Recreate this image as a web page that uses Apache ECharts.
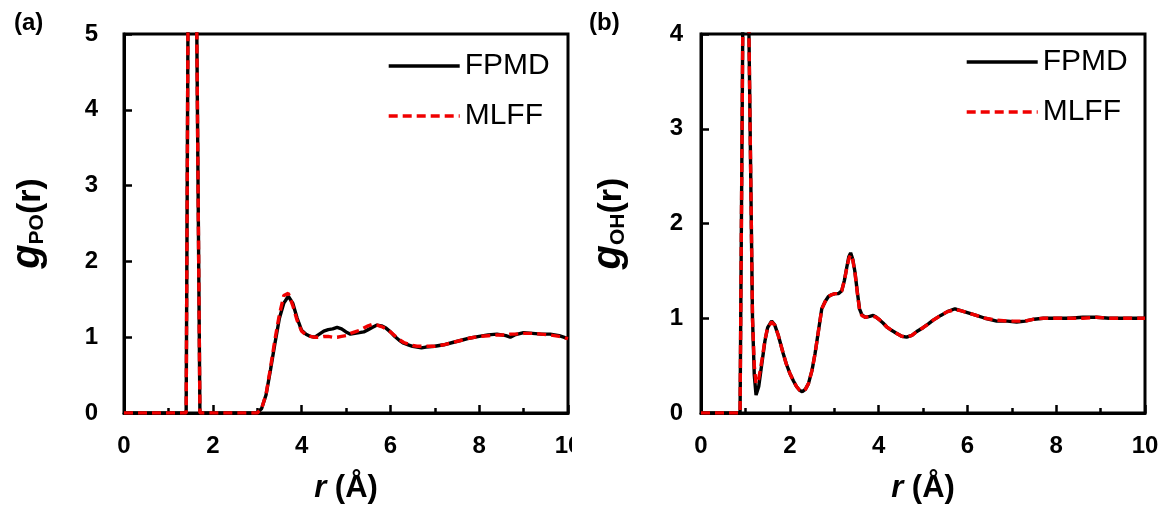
<!DOCTYPE html>
<html>
<head>
<meta charset="utf-8">
<script src="https://cdn.jsdelivr.net/npm/echarts@6/dist/echarts.min.js"></script>
<style>
  html, body { margin: 0; padding: 0; background: #fff; }
  #wrap { position: relative; width: 1163px; height: 506px; overflow: hidden; }
  #pa { position: absolute; left: 0; top: 0; width: 572px; height: 506px; }
  #pb { position: absolute; left: 572px; top: 0; width: 591px; height: 506px; }
</style>
</head>
<body>
<div id="wrap"><div id="pa"></div><div id="pb"></div></div>
<script>
// Panel (a): P–O radial distribution function
const rA = [0, 1.40, 1.44, 1.50, 1.56, 1.64, 1.71, 3.00, 3.10, 3.20, 3.30, 3.40, 3.50, 3.60, 3.70, 3.80, 3.90,
  4.00, 4.10, 4.20, 4.30, 4.40, 4.50, 4.60, 4.70, 4.80, 4.90, 5.00, 5.10, 5.20, 5.30, 5.40, 5.50, 5.60, 5.70,
  5.80, 5.90, 6.00, 6.10, 6.20, 6.30, 6.40, 6.50, 6.60, 6.70, 6.80, 7.00, 7.20, 7.40, 7.60, 7.80, 8.00, 8.20,
  8.40, 8.60, 8.70, 8.80, 9.00, 9.20, 9.40, 9.60, 9.80, 10.00];
const fpmdA = [0, 0, 5, 21, 24, 5, 0, 0, 0.06, 0.24, 0.57, 0.92, 1.25, 1.45, 1.54, 1.45, 1.25,
  1.09, 1.04, 1.01, 1.00, 1.04, 1.08, 1.10, 1.11, 1.13, 1.11, 1.07, 1.04, 1.05, 1.06, 1.07, 1.10, 1.13, 1.16,
  1.15, 1.12, 1.07, 1.01, 0.96, 0.92, 0.90, 0.88, 0.87, 0.86, 0.87, 0.88, 0.90, 0.93, 0.96, 0.99, 1.01, 1.03,
  1.04, 1.02, 1.00, 1.03, 1.06, 1.05, 1.04, 1.04, 1.02, 0.98];
const mlffA = [0, 0, 5, 21, 24, 5, 0, 0, 0.06, 0.25, 0.60, 0.97, 1.30, 1.55, 1.58, 1.42, 1.22,
  1.08, 1.03, 1.01, 1.00, 1.00, 1.01, 1.01, 1.00, 1.00, 1.01, 1.02, 1.05, 1.07, 1.09, 1.12, 1.15, 1.17, 1.16,
  1.14, 1.11, 1.07, 1.02, 0.97, 0.93, 0.91, 0.89, 0.88, 0.88, 0.88, 0.88, 0.90, 0.93, 0.96, 0.99, 1.01, 1.02,
  1.03, 1.03, 1.04, 1.04, 1.05, 1.05, 1.04, 1.03, 1.01, 0.98];

// Panel (b): O–H radial distribution function
const rB = [0, 0.88, 0.94, 0.98, 1.03, 1.08, 1.16, 1.20, 1.24, 1.30, 1.37, 1.44, 1.50, 1.59, 1.66, 1.74, 1.85,
  1.92, 2.00, 2.08, 2.15, 2.22, 2.28, 2.35, 2.42, 2.50, 2.57, 2.65, 2.72, 2.80, 2.87, 2.95, 3.02, 3.10, 3.17,
  3.23, 3.28, 3.33, 3.37, 3.42, 3.47, 3.52, 3.57, 3.62, 3.70, 3.80, 3.88, 3.95, 4.03, 4.10, 4.18, 4.30, 4.41,
  4.52, 4.63, 4.75, 4.86, 5.00, 5.12, 5.23, 5.40, 5.55, 5.72, 5.85, 6.00, 6.20, 6.40, 6.66, 6.90, 7.11, 7.30,
  7.50, 7.71, 8.00, 8.30, 8.60, 8.90, 9.20, 9.50, 9.80, 10.00];
const fpmdB = [0, 0, 4, 9, 9, 4, 1.00, 0.40, 0.19, 0.28, 0.52, 0.76, 0.90, 0.97, 0.93, 0.82, 0.63,
  0.52, 0.42, 0.34, 0.28, 0.24, 0.225, 0.25, 0.31, 0.45, 0.63, 0.88, 1.10, 1.18, 1.23, 1.25, 1.26, 1.26, 1.29,
  1.40, 1.53, 1.65, 1.69, 1.62, 1.48, 1.28, 1.10, 1.04, 1.01, 1.02, 1.03, 1.01, 0.98, 0.95, 0.91, 0.87, 0.84,
  0.81, 0.80, 0.82, 0.86, 0.90, 0.94, 0.98, 1.03, 1.07, 1.10, 1.08, 1.06, 1.03, 1.00, 0.97, 0.97, 0.96, 0.97,
  0.99, 1.00, 1.00, 1.00, 1.01, 1.01, 1.00, 1.00, 1.00, 1.00];
const mlffB = [0, 0, 4, 9, 9, 4, 1.00, 0.50, 0.31, 0.36, 0.55, 0.77, 0.90, 0.96, 0.93, 0.82, 0.63,
  0.52, 0.42, 0.34, 0.28, 0.24, 0.23, 0.25, 0.31, 0.45, 0.63, 0.88, 1.10, 1.18, 1.23, 1.25, 1.26, 1.26, 1.29,
  1.40, 1.52, 1.63, 1.67, 1.61, 1.47, 1.27, 1.09, 1.03, 1.01, 1.02, 1.02, 1.01, 0.98, 0.95, 0.91, 0.87, 0.84,
  0.81, 0.80, 0.82, 0.86, 0.90, 0.94, 0.98, 1.03, 1.07, 1.09, 1.08, 1.06, 1.03, 1.00, 0.98, 0.97, 0.97, 0.97,
  0.99, 1.00, 1.00, 1.00, 1.00, 1.01, 1.00, 1.00, 1.00, 1.00];

const seriesNames = ['FPMD', 'MLFF'];
const FONT = '"Liberation Sans", Arial, sans-serif';
const RED = '#f00000';

function pairs(xs, ys) { return xs.map((x, i) => [x, ys[i]]); }

function panelOption(cfg) {
  return {
    animation: false,
    backgroundColor: '#fff',
    title: {
      text: cfg.panel, left: cfg.panelLeft, top: 6,
      textStyle: { fontFamily: FONT, fontSize: 24, fontWeight: 'bold', color: '#000' }
    },
    legend: {
      orient: 'vertical', left: cfg.legendLeft, top: cfg.legendTop, padding: 0,
      itemWidth: 71, itemHeight: 14, itemGap: 20,
      data: seriesNames,
      selectedMode: false,
      // keep the line sample only, hide the marker drawn in its middle
      itemStyle: { opacity: 0 },
      lineStyle: { width: 3.4 },
      textStyle: { fontFamily: FONT, fontSize: 30, color: '#000', lineHeight: 30 }
    },
    grid: {
      left: cfg.gridLeft, top: 34, width: 444, height: 379,
      show: true, borderColor: '#000', borderWidth: 3,
      containLabel: false, outerBoundsMode: 'none'
    },
    xAxis: {
      type: 'value', min: 0, max: 10, interval: 2,
      name: '{i|r} (Å)', nameLocation: 'middle', nameGap: 60,
      nameTextStyle: {
        fontFamily: FONT, fontSize: 31, fontWeight: 'bold', color: '#000',
        rich: { i: { fontFamily: FONT, fontSize: 31, fontWeight: 'bold', fontStyle: 'italic', color: '#000' } }
      },
      axisLine: { lineStyle: { color: '#000', width: 3 } },
      axisTick: { inside: true, length: 8, lineStyle: { color: '#000', width: 2.5 } },
      minorTick: { show: true, splitNumber: 2, length: 5, lineStyle: { color: '#000', width: 2.5 } },
      axisLabel: { fontFamily: FONT, fontSize: 24, fontWeight: 'bold', color: '#000', margin: 21 },
      splitLine: { show: false }
    },
    yAxis: {
      type: 'value', min: 0, max: cfg.yMax, interval: 1,
      name: cfg.yName, nameLocation: 'middle', nameRotate: 90, nameGap: cfg.yNameGap,
      nameTextStyle: {
        fontFamily: FONT, fontSize: 34, fontWeight: 'bold', color: '#000',
        rich: {
          g: { fontFamily: FONT, fontSize: 40, fontWeight: 'bold', fontStyle: 'italic', color: '#000', verticalAlign: 'bottom' },
          s: { fontFamily: FONT, fontSize: 21, color: '#000', verticalAlign: 'bottom' },
          p: { fontFamily: FONT, fontSize: 34, fontWeight: 'bold', color: '#000', verticalAlign: 'bottom' }
        }
      },
      axisLine: { lineStyle: { color: '#000', width: 3 } },
      axisTick: { inside: true, length: 8, lineStyle: { color: '#000', width: 2.5 } },
      axisLabel: { fontFamily: FONT, fontSize: 24, fontWeight: 'bold', color: '#000', margin: cfg.yLabelMargin },
      splitLine: { show: false }
    },
    series: [
      {
        name: seriesNames[0], type: 'line', data: pairs(cfg.r, cfg.fpmd),
        symbol: 'none', showSymbol: false, clip: true, z: 2,
        itemStyle: { color: '#000' },
        lineStyle: { color: '#000', width: 3.4 }
      },
      {
        name: seriesNames[1], type: 'line', data: pairs(cfg.r, cfg.mlff),
        symbol: 'none', showSymbol: false, clip: true, z: 3,
        itemStyle: { color: RED },
        lineStyle: { color: RED, width: 3.4, type: [9, 5] }
      }
    ]
  };
}

const chartA = echarts.init(document.getElementById('pa'), null, { renderer: 'canvas' });
chartA.setOption(panelOption({
  panel: '(a)', panelLeft: 9, gridLeft: 124, yMax: 5,
  yName: '{g|g}{s|PO}{p|(r)}', yNameGap: 76, yLabelMargin: 26,
  legendLeft: 387, legendTop: 51,
  r: rA, fpmd: fpmdA, mlff: mlffA
}));

const chartB = echarts.init(document.getElementById('pb'), null, { renderer: 'canvas' });
chartB.setOption(panelOption({
  panel: '(b)', panelLeft: 12, gridLeft: 129, yMax: 4,
  yName: '{g|g}{s|OH}{p|(r)}', yNameGap: 72, yLabelMargin: 18,
  legendLeft: 393, legendTop: 47,
  r: rB, fpmd: fpmdB, mlff: mlffB
}));
</script>
</body>
</html>
